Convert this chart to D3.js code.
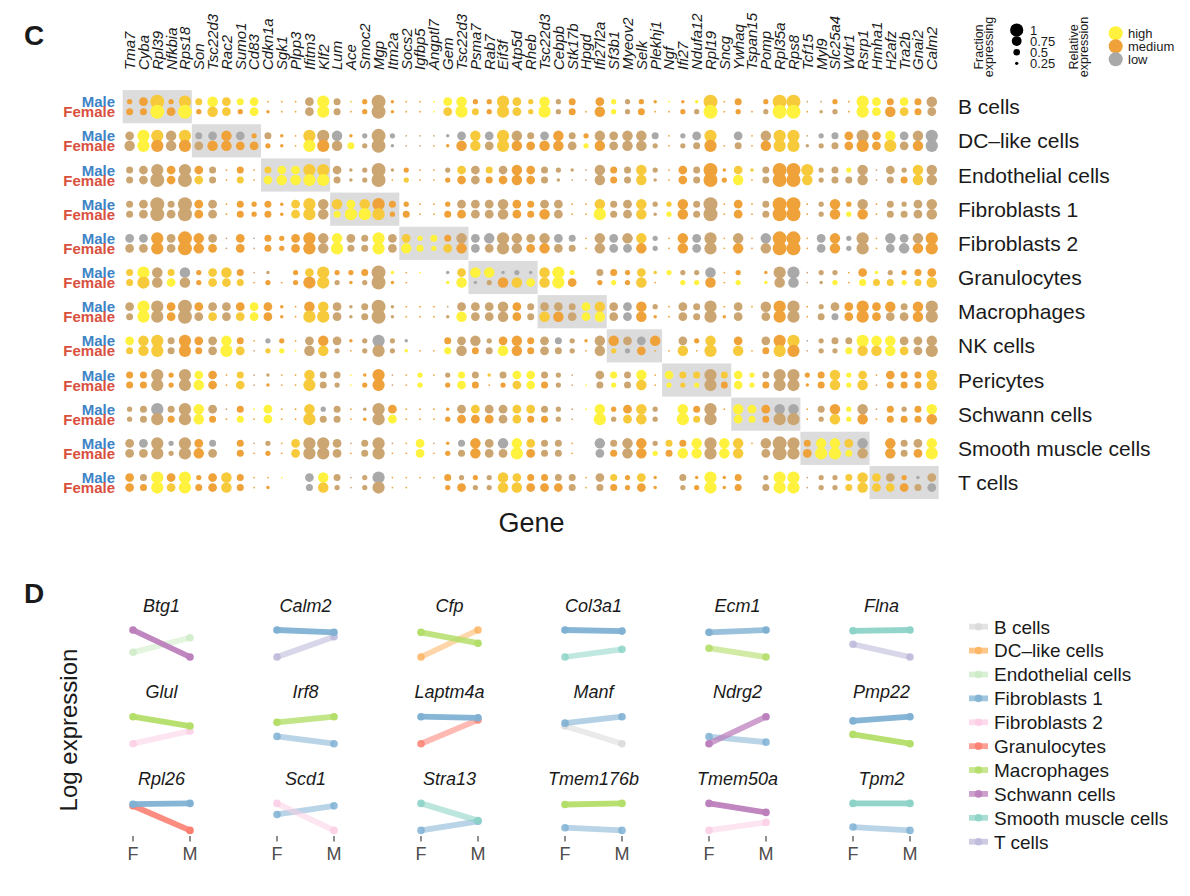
<!DOCTYPE html>
<html><head><meta charset="utf-8">
<script src="https://cdn.jsdelivr.net/npm/d3@7"></script>
<style>
body{margin:0;background:#fff}
svg{display:block}
text{font-family:"Liberation Sans",Arial,Helvetica,sans-serif;fill:#1a1a1a}
</style>
</head><body>
<svg id="chart" width="1190" height="896"></svg>
<script>
// ---------------- Panel C data ----------------
const genes = ["Tma7","Cyba","Rpl39","Nfkbia","Rps18","Son","Tsc22d3","Rac2","Sumo1","Cd83",
"Cdkn1a","Sgk1","Plpp3","Ifitm3","Klf2","Lum","Ace","Smoc2","Mgp","Itm2a",
"Socs2","Igfbp5","Angptl7","Gem","Tsc22d3","Psma7","Rab7","Eif3f","Atp5d","Rheb",
"Tsc22d3","Cebpb","Stk17b","Hpgd","Ifi27l2a","Sf3b1","Myeov2","Selk","Plekhj1","Ngf",
"Ifi27","Ndufa12","Rpl19","Sncg","Ywhaq","Tspan15","Pomp","Rpl35a","Rps8","Tcf15",
"Myl9","Slc25a4","Wdr1","Rsrp1","Hmha1","H2afz","Tra2b","Gnai2","Calm2"];
const cellTypes = ["B cells","DC\u2013like cells","Endothelial cells","Fibroblasts 1","Fibroblasts 2",
"Granulocytes","Macrophages","NK cells","Pericytes","Schwann cells","Smooth muscle cells","T cells"];
const markerCounts = [5,5,5,5,5,5,5,4,5,5,5,5];
const sexes = ["Male","Female"];
// fraction expressing, digit d -> d/8 ; one string per cell type, one digit per gene
const fracMale = [
"35837 46545 11157 41382 11156 33753 63405 33321 22814 03881 13175 4546",
"57767 45653 42177 62383 11125 65764 56436 56641 35705 16771 34575 6567",
"45757 54141 45577 52382 31135 54565 43216 44631 54825 24887 34361 5366",
"45848 55143 42576 65674 31135 55654 55116 45633 64815 14881 36361 4356",
"55758 65151 43576 65475 53446 56765 65416 56631 65716 16881 56371 6567",
"47646 35641 20357 33482 11025 66232 67304 43523 33613 02771 33152 3345",
"57758 55555 52166 52482 11115 55654 55456 55631 54715 16771 35575 6467",
"56747 55641 33156 52373 20045 63564 54326 65560 53605 05771 34476 6556",
"44737 55141 21164 41271 13134 42455 43105 44615 44745 34773 46351 5446",
"34747 65141 51163 41275 11125 55555 43116 35630 64716 55661 46361 4346",
"55737 54041 31577 51471 15124 65665 44106 46634 46766 16874 66560 6456",
"54757 35641 11056 41371 11143 33654 44415 43520 42724 03771 33465 5325"];
const fracFemale = [
"44858 36535 21157 41382 11157 43753 73416 33411 33813 13881 23175 6545",
"67767 56655 32177 64382 11126 65765 66536 56631 34714 16772 34575 7567",
"45858 54141 56677 42381 31135 54565 42116 44621 54836 14886 34461 4466",
"45858 55143 42576 47773 41145 55654 65117 45623 64815 14881 36361 4456",
"55758 65151 43576 74475 64356 55765 65416 55631 65716 16881 56371 5667",
"47656 35541 31377 32382 10026 23665 67503 33610 33613 02661 23144 4346",
"47758 55555 52177 52482 11126 55654 66556 55621 54725 05771 44575 5567",
"46747 45751 33166 31373 21146 44664 54316 33511 61706 14771 33466 6557",
"44737 65151 21174 31371 13035 41355 43114 34613 33745 34772 46361 4446",
"34747 64141 51174 41275 11135 55554 43107 35630 74705 44771 36361 4446",
"55737 65041 31577 51471 15134 65575 44105 46634 66766 05875 77460 6457",
"54757 45641 20046 31371 10035 33665 55414 43520 33724 04771 33465 5545"];
// relative expression: g low, t, o medium, a, y high
const exprMale = [
"ooaoa ayayy oooty taoto ooyyy ooaaa ytooo ytooy oyaoo ooaat tooyy oyot",
"tyata ggogo tooat gogtg tttgg agatt gotot tttgo ggaog otaat ggoto ygtg",
"tttot otooo ayyaa ttttt ooota tatoo ttttt otato otooa atooa ttytt ttat",
"ttttt otooo ooaat ayaoo oooot tttoo ttooa ttata ottoo otooo tooto tttt",
"ggoto ottog oooot yttyt ayyot ggttt tggot gtago ogtot ogooo gogto ggto",
"aytag oaaot tooaa oooty oyoga yyggg ayyot ooaay ttgoo ootgt ttooy tooo",
"tytot ottoy ooooa ttttt ooott tttot tttya tgoto tttot ototo ttooo otot",
"yaato otyoo gooto totgt gooot ttooo tgtot otgoo toaoo otoag tttyy yttt",
"ootot yooat tooat tyoot oyoty tatyy tttot ytyoy aatay yttto oayao oooa",
"ttgtt yttoy yooag totto oooot attaa tttyy ooato yotoy yoggo toytt otoy",
"tgtgt ogoot toatt ttttt oytog otgya ttoog ttota oytya ottto yyago otty",
"otyoy ooaoo oyogy tttgo oooot otaao ottot aoaoo toyoo otyyt ttaaa togt"];
const exprFemale = [
"ooyoy oaaoy oooty tooto ooyay aoaaa ytooo ytooo otyoo otyyo ttoyy oaot",
"tyoto toooo oooyo tyttg ttooo ataoo ootyo tttto ttoot ooaat ttooo atog",
"tttot atoao yyyyy tttto aoooo toooo ttttt otato otooy otooa ttttt toat",
"ttttt otooo ooaat yyyao ooooo tttoo otooy ttaty ottoo otooo toyoo tttt",
"ttoto ootot oooot yttyt yyyao gttto ottot ggogo ogtoo otooo gogto ggoo",
"aatyt oaaao ooooa totto oooyy gtoay ayooo yoaoo yyooy oytgt tyoya ayaa",
"tytot tatay oooaa ttttt oooty tttot aotyy tgooo tttot ototo tgooo ttot",
"aaato otyat ayyta tottt yooyt otyoo tttot agooo aoaoa ooaot ttyaa yatt",
"ootot yooat oooat tyoot oyooy oooay ottyt ytaoy aytoy yotto oayat oooa",
"tttot yooyo yooat tooty ooooo ootao ottoy taato yatoy yotto tayoo oooo",
"ttttt otooo ooatt totto oyoot ottyo ttoog otoyo yytya ottto yyyto otoy",
"ooyay ooaoo oooga tttto ooooo ttaao ootot ooooo toyoo otyyt ttaaa aotg"];
const fracLegend = [1, 0.75, 0.5, 0.25];
const exprLegend = ["high","medium","low"];

// ---------------- Panel D data ----------------
const dGenes = ["Btg1","Calm2","Cfp","Col3a1","Ecm1","Flna","Glul","Irf8","Laptm4a","Manf","Ndrg2","Pmp22",
"Rpl26","Scd1","Stra13","Tmem176b","Tmem50a","Tpm2"];
const dCellA = ["Schwann cells","Fibroblasts 1","Macrophages","Fibroblasts 1","Fibroblasts 1","Smooth muscle cells",
"Macrophages","Macrophages","Fibroblasts 1","Fibroblasts 1","Schwann cells","Fibroblasts 1",
"Fibroblasts 1","Fibroblasts 2","Smooth muscle cells","Macrophages","Schwann cells","Smooth muscle cells"];
const dAF = [0.94,0.91,0.88,1.00,0.88,1.00, 0.90,0.79,1.00,0.75,0.04,0.77, 0.82,0.94,0.90,0.96,0.91,0.97];
const dAM = [0.07,0.84,0.51,0.96,0.96,1.03, 0.62,1.00,0.96,0.98,0.92,0.90, 0.84,0.06,0.39,1.00,0.64,0.97];
const dCellB = ["Endothelial cells","T cells","DC\u2013like cells","Smooth muscle cells","Macrophages","T cells",
"Fibroblasts 2","Fibroblasts 1","Granulocytes","B cells","Fibroblasts 1","Macrophages",
"Granulocytes","Fibroblasts 1","Fibroblasts 1","Fibroblasts 1","Fibroblasts 2","Fibroblasts 1"];
const dBF = [0.22,0.10,0.04,0.01,0.34,0.48, 0.09,0.27,0.00,0.65,0.27,0.35, 0.78,0.58,0.10,0.10,0.10,0.12];
const dBM = [0.69,0.71,0.96,0.29,0.04,-0.01, 0.47,0.00,0.88,0.02,0.09,0.06, 0.16,0.86,0.37,0.00,0.34,0.00];
const dWeightA = [1,1,0.8,1,0.7,1, 1,0.7,1,0.3,0.6,1, 1,0.2,0.3,1,1,1];
const dWeightB = [0.2,0.3,0.2,0.2,0.3,0.3, 0.2,0.2,0.2,0.2,0.2,1, 0.9,0.2,0.2,0.2,0.2,0.2];
const dLegend = ["B cells","DC\u2013like cells","Endothelial cells","Fibroblasts 1","Fibroblasts 2","Granulocytes",
"Macrophages","Schwann cells","Smooth muscle cells","T cells"];
const dSexes = ["F","M"];

// ---------------- drawing ----------------
const svg = d3.select("#chart");
const parse = s => s.replace(/\s/g,"").split("");
const codeVal = {g:0,t:0.25,o:0.5,a:0.75,y:1};

const x = d3.scaleBand().domain(d3.range(genes.length)).range([122.7, 938.7]);
const y = d3.scaleBand().domain(cellTypes).range([89.6, 499.6]);
const sexOff = d3.scalePoint().domain(sexes).range([-5, 5]);
const rScale = d3.scaleLinear().domain([0,1]).range([0,7.0]);
const cScale = d3.scaleLinear().domain([0,0.5,1]).range(["#a9a9a9","#efa23a","#fff23e"]);

const C = svg.append("g");
C.append("text").attr("x",24).attr("y",45).attr("font-size",28).attr("font-weight","bold").attr("fill","#000").text("C");

// marker boxes
const starts = d3.cumsum([0, ...markerCounts]);
C.selectAll("rect.box").data(cellTypes).join("rect")
 .attr("x",(d,i)=>x(starts[i]))
 .attr("width",(d,i)=>x.bandwidth()*markerCounts[i])
 .attr("y",d=>y(d)+0.5).attr("height",y.bandwidth()-1)
 .attr("fill","#dcdcdc");

// dots
const dots = [];
sexes.forEach(sex=>{
  cellTypes.forEach((ct,ci)=>{
    const fr = parse((sex==="Male"?fracMale:fracFemale)[ci]);
    const ex = parse((sex==="Male"?exprMale:exprFemale)[ci]);
    genes.forEach((g,gi)=>{
      const f = +(fr[gi]||0)/8;
      if(f>0) dots.push({ct, sex, gi, f, e: codeVal[ex[gi]] ?? 0.5});
    });
  });
});
C.selectAll("circle.dot").data(dots).join("circle")
 .attr("cx",d=>x(d.gi)+x.bandwidth()/2)
 .attr("cy",d=>y(d.ct)+y.bandwidth()/2+sexOff(d.sex))
 .attr("r",d=>rScale(d.f))
 .attr("fill",d=>cScale(d.e));

// gene labels
C.selectAll("text.gene").data(genes).join("text")
 .attr("transform",(d,i)=>`translate(${x(i)+x.bandwidth()/2},70) rotate(-90)`)
 .attr("dy","0.36em").attr("font-size",15).attr("font-style","italic").attr("fill","#222")
 .text(d=>d);

// Male / Female labels
cellTypes.forEach(ct=>{
  sexes.forEach(sex=>{
    C.append("text").attr("x",115).attr("y",y(ct)+y.bandwidth()/2+sexOff(sex)+5.5)
     .attr("text-anchor","end").attr("font-size",15).attr("font-weight","bold")
     .style("fill", sex==="Male" ? "#3d84c6" : "#d9503f").text(sex);
  });
});
// cell type labels
C.selectAll("text.ct").data(cellTypes).join("text")
 .attr("x",958).attr("y",d=>y(d)+y.bandwidth()/2+7.5)
 .attr("font-size",21).text(d=>d);
// x title
C.append("text").attr("x",531.5).attr("y",531.5).attr("text-anchor","middle").attr("font-size",27).text("Gene");

// legend C
const L = svg.append("g").attr("font-size",13);
L.append("text").attr("transform","translate(983,47) rotate(-90)").attr("text-anchor","middle").attr("font-size",12.5).text("Fraction");
L.append("text").attr("transform","translate(993,47) rotate(-90)").attr("text-anchor","middle").attr("font-size",12.5).text("expressing");
const legY1 = d3.scalePoint().domain(fracLegend).range([30,63.3]);
const rLeg = d3.scaleLinear().domain([0,1]).range([0,6.6]);
fracLegend.forEach(v=>{
  L.append("circle").attr("cx",1016.7).attr("cy",legY1(v)).attr("r",rLeg(v)).attr("fill","#000");
  L.append("text").attr("x",1030).attr("y",legY1(v)+4.6).text(v);
});
L.append("text").attr("transform","translate(1078,47) rotate(-90)").attr("text-anchor","middle").attr("font-size",12.5).text("Relative");
L.append("text").attr("transform","translate(1088,47) rotate(-90)").attr("text-anchor","middle").attr("font-size",12.5).text("expression");
const legY2 = d3.scalePoint().domain(exprLegend).range([33.3,59.3]);
const exprLegVal = {high:1, medium:0.5, low:0};
exprLegend.forEach(v=>{
  L.append("circle").attr("cx",1115.7).attr("cy",legY2(v)).attr("r",7).attr("fill",cScale(exprLegVal[v]));
});
exprLegend.forEach(v=>{
  L.append("text").attr("x",1128).attr("y",legY2(v)+4.6).text(v);
});

// ---------------- Panel D ----------------
const D = svg.append("g");
D.append("text").attr("x",24).attr("y",603).attr("font-size",28).attr("font-weight","bold").attr("fill","#000").text("D");
D.append("text").attr("transform","translate(77,730) rotate(-90)").attr("text-anchor","middle").attr("font-size",24).text("Log expression");

const colorD = d3.scaleOrdinal().domain(dLegend)
 .range(["#D9D9D9","#FDB462","#CCEBC5","#80B1D3","#FCCDE5","#FB8072","#B3DE69","#BC80BD","#8DD3C7","#BEBADA"]);
const panelX = d3.scaleBand().domain(d3.range(6)).range([133, 133+144*6]);
const sexX = d3.scalePoint().domain(dSexes).range([0,57]);
const rowStep = 86.7;
const opac = d3.scaleLinear().domain([0,1]).range([0.45,0.95]);

dGenes.forEach((gname,i)=>{
  const j = i%6, row = Math.floor(i/6);
  const px = panelX(j);
  const vals = [dAF[i],dAM[i],dBF[i],dBM[i]];
  const ys = d3.scaleLinear().domain(d3.extent(vals)).range([657+rowStep*row, 630+rowStep*row]);
  const g = D.append("g");
  g.append("text").attr("x",px+28.5).attr("y",611.5+rowStep*row).attr("text-anchor","middle")
   .attr("font-size",18).attr("font-style","italic").text(gname);
  const lines = [
    {ct:dCellB[i], v:[dBF[i],dBM[i]], w:dWeightB[i]},
    {ct:dCellA[i], v:[dAF[i],dAM[i]], w:dWeightA[i]}
  ];
  lines.forEach(L0=>{
    const o = opac(L0.w);
    g.append("line").attr("x1",px+sexX("F")).attr("x2",px+sexX("M"))
     .attr("y1",ys(L0.v[0])).attr("y2",ys(L0.v[1]))
     .attr("stroke",colorD(L0.ct)).attr("stroke-width",5.8).attr("stroke-opacity",o);
    dSexes.forEach((s,k)=>{
      g.append("circle").attr("cx",px+sexX(s)).attr("cy",ys(L0.v[k])).attr("r",3.8)
       .attr("fill",colorD(L0.ct)).attr("fill-opacity",Math.min(1,o+0.3));
    });
  });
  if(row===2){
    dSexes.forEach(s=>{
      g.append("line").attr("x1",px+sexX(s)).attr("x2",px+sexX(s)).attr("y1",836).attr("y2",841.5)
       .attr("stroke","#333").attr("stroke-width",1.1);
      g.append("text").attr("x",px+sexX(s)).attr("y",860).attr("text-anchor","middle")
       .attr("font-size",18).style("fill","#4d4d4d").text(s);
    });
  }
});

// legend D
const legD = d3.scalePoint().domain(dLegend).range([626.7, 841.7]);
dLegend.forEach(ct=>{
  const yy = legD(ct);
  D.append("line").attr("x1",969).attr("x2",988).attr("y1",yy).attr("y2",yy)
   .attr("stroke",colorD(ct)).attr("stroke-width",5.8).attr("stroke-opacity",0.75);
  D.append("circle").attr("cx",978.5).attr("cy",yy).attr("r",3.8).attr("fill",colorD(ct)).attr("fill-opacity",0.9);
  D.append("text").attr("x",994).attr("y",yy+6.8).attr("font-size",19).text(ct);
});
</script>
</body></html>
